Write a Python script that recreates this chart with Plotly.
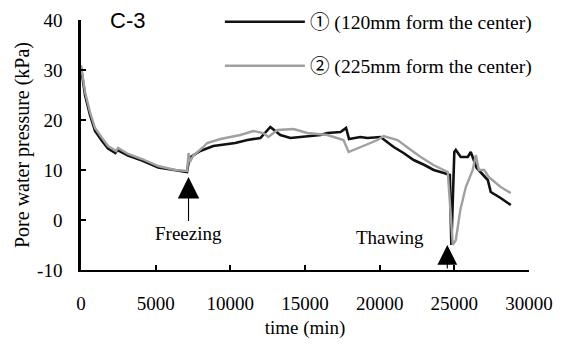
import plotly.graph_objects as go

# time (min) and pore water pressure (kPa)
t1 = [0, 70, 270, 600, 940, 1410, 1810, 2300, 2450, 3150, 4090, 5170, 6310, 7100, 7250,
      7985, 8860, 10330, 11140, 12010, 12680, 13350, 14020, 15160, 16040, 16500, 17380,
      17750, 17950, 18700, 19190, 20060, 20940, 21600, 22280, 23000, 23620, 24300, 24700,
      24800, 25000, 25100, 25430, 25900, 26100, 26300, 26500, 27240, 27440, 28100, 28780]
p1 = [30.5, 29, 25, 21, 17.8, 15.8, 14.3, 13.4, 14, 12.9, 11.9, 10.5, 9.9, 9.6, 12.4,
      13.8, 14.8, 15.4, 16, 16.4, 18.6, 17, 16.4, 16.8, 17, 17.4, 17.6,
      18.4, 16.2, 16.6, 16.4, 16.6, 14.6, 13.4, 12, 11, 10, 9.4, 9,
      -5, 13.6, 14, 12.6, 12.6, 13.6, 12, 10.4, 8, 5.6, 4.4, 3]

t2 = [0, 70, 270, 600, 940, 1410, 1810, 2350, 2480, 3150, 4090, 5170, 6310, 7110, 7200,
      7300, 7500, 8190, 8450, 9330, 10670, 11540, 12210, 12550, 13150, 14230, 15160, 16500,
      17580, 17920, 18720, 19860, 20260, 21200, 22000, 22750, 23600, 24560, 24900, 25100,
      25400, 25770, 26230, 26440, 26640, 27000, 27300, 28100, 28780]
p2 = [31, 29.4, 25.6, 21.6, 18.4, 16.4, 14.8, 13.8, 14.4, 13.2, 12.2, 10.8, 10, 9.8, 13.4,
      11.6, 12.8, 14.6, 15.4, 16.2, 17, 17.8, 17.4, 16.6, 18, 18.2, 17.4, 17,
      16, 13.6, 14.6, 16, 16.8, 16, 14.2, 12.6, 11, 9.6, -5, -4,
      2, 6.6, 10, 13, 10, 10, 8.6, 6.6, 5.4]

names = ["\u2460 (120mm form the center)", "\u2461 (225mm form the center)"]
x_ticks = [0, 5000, 10000, 15000, 20000, 25000, 30000]
x_labels = ["0", "5000", "10000", "15000", "20000", "25000", "30000"]
y_ticks = [-10, 0, 10, 20, 30, 40]
y_labels = ["-10", "0", "10", "20", "30", "40"]

freeze_time, freeze_tip = 7200, 8.6
thaw_time, thaw_tip = 24530, -5

SERIF = "Liberation Serif, Noto Sans CJK JP, serif"
SANS = "Liberation Sans, sans-serif"

fig = go.Figure()
fig.add_trace(go.Scatter(x=t1, y=p1, mode="lines", name=names[0], legend="legend",
                         line=dict(color="#111111", width=2.6)))
fig.add_trace(go.Scatter(x=t2, y=p2, mode="lines", name=names[1], legend="legend2",
                         line=dict(color="#a0a0a0", width=2.4)))

fig.add_annotation(x=freeze_time, y=freeze_tip, text="Freezing", showarrow=True,
                   ax=0, ay=56, arrowhead=2, arrowsize=3.9, arrowwidth=1.1,
                   arrowcolor="black", font=dict(family=SERIF, size=19, color="black"))
fig.add_annotation(x=thaw_time, y=thaw_tip, text="", showarrow=True,
                   axref="x", ayref="y", ax=thaw_time, ay=-10, arrowhead=2,
                   arrowsize=3.6, arrowwidth=1.1, arrowcolor="black")
fig.add_annotation(x=20670, y=-3.4, text="Thawing", showarrow=False,
                   font=dict(family=SERIF, size=19, color="black"))
fig.add_annotation(x=0.06, y=1.0, xref="paper", yref="paper", text="C-3", showarrow=False,
                   xanchor="left", yanchor="middle",
                   font=dict(family=SANS, size=22, color="black"))

legend_common = dict(x=0.31, xanchor="left", yanchor="middle", bgcolor="rgba(0,0,0,0)",
                     itemwidth=80, font=dict(family=SERIF, size=19.6, color="black"))

fig.update_layout(
    width=567, height=348,
    margin=dict(l=81, r=38, t=20, b=78, autoexpand=False),
    paper_bgcolor="white", plot_bgcolor="white",
    font=dict(family=SERIF, size=19, color="black"),
    showlegend=True,
    legend=dict(y=0.992, **legend_common),
    legend2=dict(y=0.816, **legend_common),
    xaxis=dict(range=[0, 30000], tickvals=x_ticks, ticktext=x_labels, ticks="inside",
               ticklen=5, tickwidth=1.5, tickcolor="black", showline=True, linecolor="black",
               linewidth=2, showgrid=False, zeroline=False, ticklabelstandoff=15,
               tickfont=dict(family=SERIF, size=19, color="black"),
               title=dict(text="time (min)", standoff=8,
                          font=dict(family=SERIF, size=19, color="black"))),
    yaxis=dict(range=[-10, 40], tickvals=y_ticks, ticktext=y_labels, ticks="inside",
               ticklen=5, tickwidth=1.5, tickcolor="black", showline=True, linecolor="black",
               linewidth=2.5, showgrid=False, zeroline=False, ticklabelstandoff=12,
               tickfont=dict(family=SERIF, size=19, color="black"),
               title=dict(text="Pore water pressure (kPa)", standoff=3,
                          font=dict(family=SERIF, size=20, color="black"))),
)

fig.write_html("out.html")
